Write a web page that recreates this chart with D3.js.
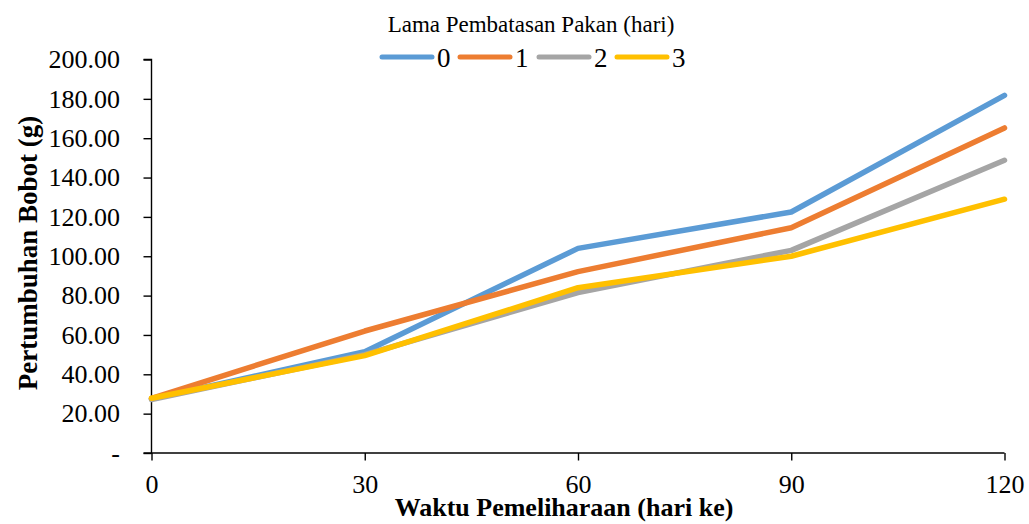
<!DOCTYPE html>
<html>
<head>
<meta charset="utf-8">
<script src="https://cdn.jsdelivr.net/npm/d3@7"></script>
<style>
  body { margin: 0; background: #fff; }
  text { font-family: "Liberation Serif", "Times New Roman", serif; fill: #000; }
</style>
</head>
<body>
<script>
var w = 1029;
var h = 524;

// Data
var days = [0, 30, 60, 90, 120];
var seriesNames = ["0", "1", "2", "3"];
var colors = ["#5B9BD5", "#ED7D31", "#A5A5A5", "#FFC000"];
var s0 = [27.5, 51.5, 104.0, 122.5, 181.8];
var s1 = [27.8, 62.0, 92.2, 114.5, 165.2];
var s2 = [27.2, 50.0, 81.5, 103.0, 148.8];
var s3 = [27.8, 49.5, 84.0, 100.0, 129.0];
var allSeries = [s0, s1, s2, s3];
var yTicks = [0, 20, 40, 60, 80, 100, 120, 140, 160, 180, 200];

var svg = d3.select("body")
            .append("svg")
            .attr("width", w)
            .attr("height", h);

var x = d3.scaleLinear().domain([0, 120]).range([151.5, 1004.5]);
var y = d3.scaleLinear().domain([0, 200]).range([453, 59.5]);

// Axes
var yAxis = d3.axisLeft(y)
	.tickValues(yTicks)
	.tickSize(8)
	.tickPadding(23.5)
	.tickFormat(function(d) { return d === 0 ? "-" : d3.format(".2f")(d); });
var gy = svg.append("g")
	.attr("transform", "translate(" + x(0) + ",0)")
	.call(yAxis);

var xAxis = d3.axisBottom(x)
	.tickValues(days)
	.tickSize(7.5)
	.tickPadding(14);
var gx = svg.append("g")
	.attr("transform", "translate(0," + y(0) + ")")
	.call(xAxis);

[gx, gy].forEach(function(g) {
	g.select(".domain").attr("stroke", "#000").attr("stroke-width", 1.4);
	g.selectAll(".tick line").attr("stroke", "#000").attr("stroke-width", 1.4);
	g.selectAll("text").attr("font-size", 26).attr("font-family", "Liberation Serif").attr("fill", "#000");
});
gy.select(".domain").attr("d", "M-8," + y(200) + "H0V" + y(0) + "H-8");
gx.select(".domain").attr("d", "M" + x(0) + ",0H" + x(120));

// Lines
var line = d3.line()
	.x(function(d, i) { return x(days[i]); })
	.y(function(d) { return y(d); });

svg.selectAll("path.series")
	.data(allSeries)
	.enter()
	.append("path")
	.attr("class", "series")
	.attr("d", line)
	.attr("fill", "none")
	.attr("stroke", function(d, i) { return colors[i]; })
	.attr("stroke-width", 5.5)
	.attr("stroke-linejoin", "round")
	.attr("stroke-linecap", "round");

// Legend
svg.append("text")
	.attr("x", 531)
	.attr("y", 32)
	.attr("text-anchor", "middle")
	.attr("font-size", 23)
	.text("Lama Pembatasan Pakan (hari)");

var legendX = [380, 458, 537, 615];
var lg = svg.selectAll("g.legend")
	.data(seriesNames)
	.enter()
	.append("g")
	.attr("class", "legend")
	.attr("transform", function(d, i) { return "translate(" + legendX[i] + ",57)"; });
lg.append("line")
	.attr("x1", 2).attr("x2", 52)
	.attr("stroke", function(d, i) { return colors[i]; })
	.attr("stroke-width", 5)
	.attr("stroke-linecap", "round");
lg.append("text")
	.attr("x", 57)
	.attr("y", 9.5)
	.attr("font-size", 27)
	.text(function(d) { return d; });

// Axis titles
svg.append("text")
	.attr("x", 564)
	.attr("y", 516)
	.attr("text-anchor", "middle")
	.attr("font-size", 26)
	.attr("font-weight", "bold")
	.text("Waktu Pemeliharaan (hari ke)");

svg.append("text")
	.attr("transform", "translate(37,253) rotate(-90)")
	.attr("text-anchor", "middle")
	.attr("font-size", 27)
	.attr("font-weight", "bold")
	.text("Pertumbuhan Bobot (g)");
</script>
</body>
</html>
